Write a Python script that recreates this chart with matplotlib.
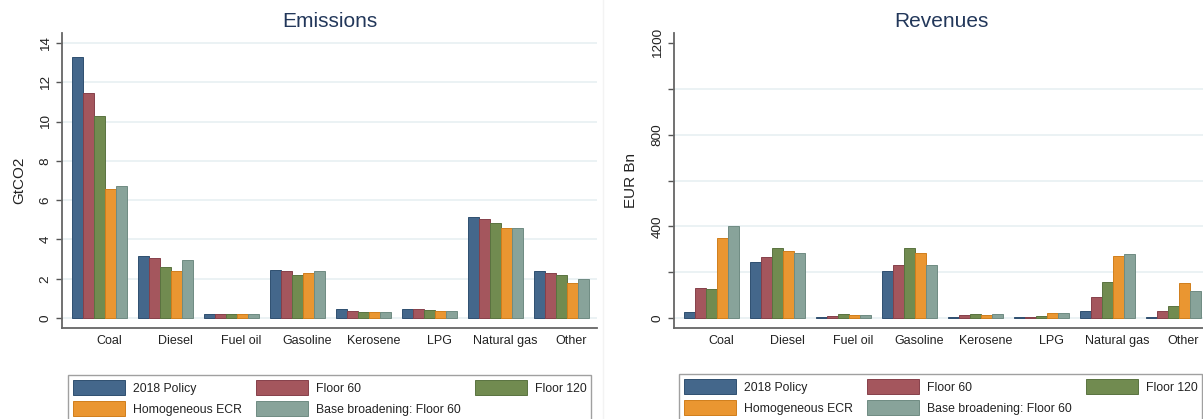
import matplotlib
matplotlib.use("Agg")
import matplotlib.pyplot as plt
import numpy as np
from matplotlib.lines import Line2D

plt.rcParams['font.family'] = ['Liberation Sans', 'DejaVu Sans']

categories = ["Coal", "Diesel", "Fuel oil", "Gasoline", "Kerosene", "LPG", "Natural gas", "Other"]
series_names = ["2018 Policy", "Floor 60", "Floor 120", "Homogeneous ECR", "Base broadening: Floor 60"]

emissions_2018 = [13.3, 3.17, 0.22, 2.46, 0.44, 0.46, 5.13, 2.39]
emissions_floor60 = [11.45, 3.07, 0.22, 2.41, 0.37, 0.46, 5.02, 2.31]
emissions_floor120 = [10.3, 2.61, 0.21, 2.2, 0.29, 0.41, 4.85, 2.17]
emissions_ecr = [6.55, 2.38, 0.21, 2.27, 0.33, 0.37, 4.58, 1.78]
emissions_bb = [6.7, 2.94, 0.21, 2.41, 0.32, 0.37, 4.58, 1.97]

revenues_2018 = [27, 244, 3, 205, 3, 3, 31, 6]
revenues_floor60 = [130, 265, 7, 230, 12, 6, 93, 31]
revenues_floor120 = [125, 307, 16, 304, 17, 10, 156, 52]
revenues_ecr = [348, 291, 15, 282, 13, 22, 270, 151]
revenues_bb = [400, 282, 12, 231, 17, 23, 280, 116]

colors = ["#44678b", "#a4565d", "#718b50", "#ea9631", "#88a39a"]
edge_colors = ["#2f4f70", "#86404a", "#5a7340", "#d07e1c", "#6f8b82"]

W, H = 1203, 419
fig = plt.figure(figsize=(W / 100, H / 100), dpi=100)

def fx(px):
    return px / W

def fy(px):
    return 1 - px / H

axL = fig.add_axes([fx(62), fy(328), fx(535), (328 - 33) / H])
axR = fig.add_axes([fx(674), fy(328), fx(535), (328 - 33) / H])

x = np.arange(len(categories))
bw = 0.1667

def draw(ax, data, title, ylabel, ylim, major, minor, gridvals):
    for k, vals in enumerate(data):
        ax.bar(x + (k - 2) * bw, vals, width=bw, color=colors[k],
               edgecolor=edge_colors[k], linewidth=0.7, label=series_names[k], zorder=3)
    ax.set_xlim(-0.568, 7.538)
    ax.set_ylim(*ylim)
    for g in gridvals:
        ax.axhline(g, color="#e9f1f3", linewidth=1.3, zorder=1)
    ax.set_yticks(major)
    ax.set_yticks(minor, minor=True)
    ax.set_yticklabels([str(v) for v in major], rotation=90, va="center",
                       fontsize=9.7, color="#222222")
    ax.tick_params(axis="y", which="both", length=4.5, width=1, color="#555555", pad=3)
    ax.set_xticks(x + 0.15)
    ax.set_xticklabels(categories, fontsize=9, color="#222222")
    ax.tick_params(axis="x", length=0, pad=5)
    for s in ["top", "right"]:
        ax.spines[s].set_visible(False)
    for s in ["left", "bottom"]:
        ax.spines[s].set_color("#666666")
        ax.spines[s].set_linewidth(1.3)
    ax.set_title(title, fontsize=15, color="#22375a", pad=4)
    ax.set_ylabel(ylabel, fontsize=11, color="#222222")
    ax.yaxis.set_label_coords(-0.067, 0.5)

draw(axL, [emissions_2018, emissions_floor60, emissions_floor120, emissions_ecr, emissions_bb],
     "Emissions", "GtCO2", (-0.509, 14.51), list(range(0, 15, 2)), [], list(range(0, 15, 2)))
draw(axR, [revenues_2018, revenues_floor60, revenues_floor120, revenues_ecr, revenues_bb],
     "Revenues", "EUR Bn", (-43.6, 1243.6), [0, 400, 800, 1200], [200, 600, 1000],
     [0, 200, 400, 600, 800, 1000])

# faint separator between the two combined graphs
fig.add_artist(Line2D([fx(603), fx(603)], [0, 1], color="#f3f3f3", linewidth=1))

order = [0, 3, 1, 4, 2]
for ax, left_px, top_px in [(axL, 68, 375), (axR, 679, 374)]:
    h, l = ax.get_legend_handles_labels()
    leg = fig.legend([h[i] for i in order], [l[i] for i in order],
                     loc="upper left", bbox_to_anchor=(fx(left_px), fy(top_px)),
                     bbox_transform=fig.transFigure, ncol=3, fontsize=8.8,
                     handlelength=4.25, handleheight=1.5, handletextpad=0.65,
                     columnspacing=1.15, labelspacing=0.5, borderpad=0.42,
                     borderaxespad=0, frameon=True, fancybox=False)
    leg.get_frame().set_edgecolor("#888888")
    leg.get_frame().set_linewidth(1.0)
    for t in leg.get_texts():
        t.set_color("#222222")

fig.savefig("out.png", dpi=100)
